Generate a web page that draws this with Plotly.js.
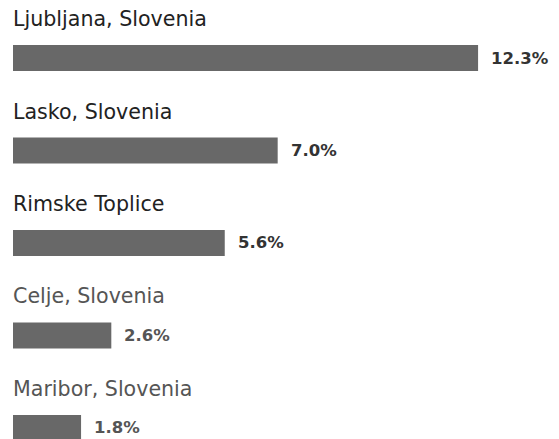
<!DOCTYPE html>
<html>
<head>
<meta charset="utf-8">
<script src="https://cdn.plot.ly/plotly-3.0.1.min.js"></script>
<style>html,body{margin:0;padding:0;background:#fff;}#chart{width:559px;height:439px;}</style>
</head>
<body>
<div id="chart"></div>
<script>
const places = ["Ljubljana, Slovenia", "Lasko, Slovenia", "Rimske Toplice", "Celje, Slovenia", "Maribor, Slovenia"];
const shares = [12.3, 7.0, 5.6, 2.6, 1.8];
const labelColors = ["#222222", "#222222", "#222222", "#555555", "#555555"];
const valueColors = ["#333333", "#333333", "#333333", "#555555", "#555555"];

const FONT = "'DejaVu Sans', sans-serif";

const trace = {
  type: "bar",
  orientation: "h",
  x: shares,
  y: places,
  width: 0.28,
  marker: {color: "#686868", line: {width: 0}},
  hoverinfo: "none"
};

const annotations = [];
places.forEach((p, i) => {
  annotations.push({
    x: 0, y: p, xref: "x", yref: "y",
    text: p, showarrow: false,
    xanchor: "left", yanchor: "middle",
    xshift: -2, yshift: 39,
    font: {family: FONT, size: 20.6, color: labelColors[i]}
  });
  annotations.push({
    x: shares[i], y: p, xref: "x", yref: "y",
    text: shares[i].toFixed(1) + "%", showarrow: false,
    xanchor: "left", yanchor: "middle",
    xshift: 11,
    font: {family: FONT, size: 16.5, color: valueColors[i], weight: "bold"}
  });
});

const layout = {
  width: 559, height: 439,
  margin: {l: 13, r: 0, t: 0, b: 0, pad: 0},
  paper_bgcolor: "#ffffff",
  plot_bgcolor: "#ffffff",
  showlegend: false,
  xaxis: {range: [0, 14.44], visible: false, fixedrange: true},
  yaxis: {type: "category", range: [4.119, -0.627], visible: false, fixedrange: true},
  annotations: annotations
};

Plotly.newPlot("chart", [trace], layout, {displayModeBar: false, staticPlot: true});
</script>
</body>
</html>
